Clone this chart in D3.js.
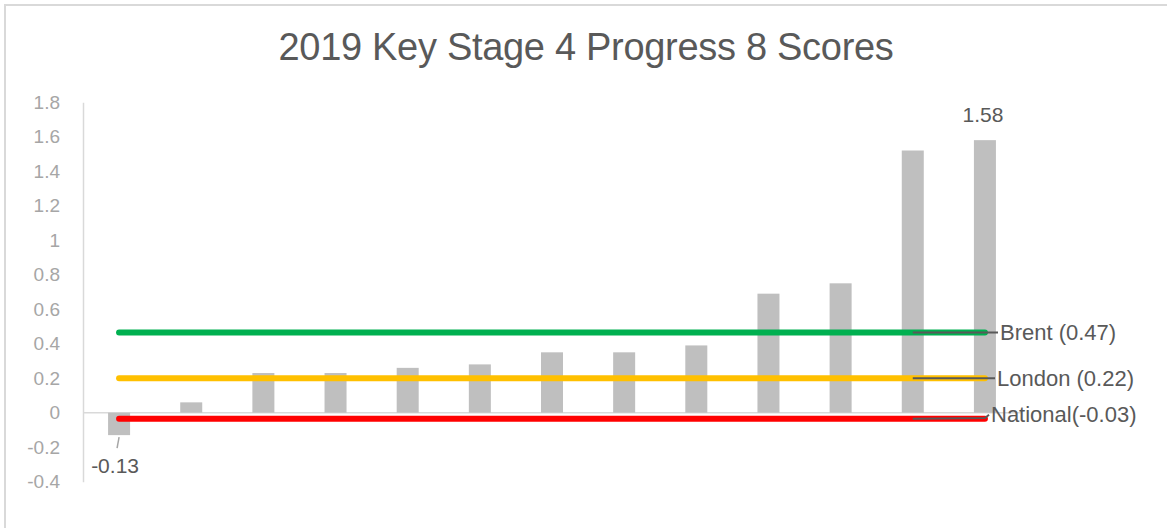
<!DOCTYPE html>
<html>
<head>
<meta charset="utf-8">
<script src="https://cdn.jsdelivr.net/npm/d3@7"></script>
<style>
  html, body { margin: 0; padding: 0; background: #fff; }
  svg { display: block; }
</style>
</head>
<body>
<svg id="chart" width="1167" height="528"></svg>
<script>
// ---- data ----
const titleText = "2019 Key Stage 4 Progress 8 Scores";
const schools = ["School 1","School 2","School 3","School 4","School 5","School 6","School 7",
                 "School 8","School 9","School 10","School 11","School 12","School 13"];
const scores = [-0.13, 0.06, 0.23, 0.23, 0.26, 0.28, 0.35, 0.35, 0.39, 0.69, 0.75, 1.52, 1.58];
const yTicks = [-0.4, -0.2, 0, 0.2, 0.4, 0.6, 0.8, 1, 1.2, 1.4, 1.6, 1.8];
const benchmarkNames = ["Brent (0.47)", "London (0.22)", "National(-0.03)"];
const benchmarkValues = [0.465, 0.2, -0.035];
const benchmarkColors = ["#00B050", "#FFC000", "#FF0000"];
const labelledBars = [0, 12];

// ---- layout ----
const svg = d3.select("#chart");
const plot = { left: 83, right: 1021, top: 102.2, bottom: 481.7 };
const locale = d3.formatLocale({ decimal: ".", thousands: ",", grouping: [3], currency: ["", ""], minus: "-" });
const fmt2 = locale.format(".2f");
const fmtTick = d => locale.format("")(+d.toFixed(1));

svg.append("rect")
  .attr("x", 5).attr("y", 5).attr("width", 1300).attr("height", 700)
  .attr("fill", "#fff").attr("stroke", "#D9D9D9").attr("stroke-width", 2);

const x = d3.scaleBand()
  .domain(schools)
  .range([plot.left, plot.right])
  .paddingInner(0.695)
  .paddingOuter(0.3475);

const y = d3.scaleLinear()
  .domain([-0.4, 1.8])
  .range([plot.bottom, plot.top]);

// title
svg.append("text")
  .attr("x", 586).attr("y", 60)
  .attr("text-anchor", "middle")
  .attr("font-family", "Liberation Sans, Arial, sans-serif")
  .attr("font-size", 38)
  .attr("letter-spacing", -0.3)
  .attr("fill", "#595959")
  .text(titleText);

// y axis
const yAxis = d3.axisLeft(y).tickValues(yTicks).tickSize(0).tickPadding(23)
  .tickFormat(fmtTick);
const gy = svg.append("g").attr("transform", `translate(${plot.left},0)`).call(yAxis);
gy.select(".domain").attr("stroke", "#D9D9D9").attr("stroke-width", 1.5);
gy.selectAll("text")
  .attr("font-family", "Liberation Sans, Arial, sans-serif")
  .attr("font-size", 19)
  .attr("fill", "#A6A6A6");

// zero line (category axis)
svg.append("line")
  .attr("x1", plot.left).attr("x2", plot.right)
  .attr("y1", y(0)).attr("y2", y(0))
  .attr("stroke", "#D9D9D9").attr("stroke-width", 1.5);

// bars
svg.append("g").selectAll("rect")
  .data(scores)
  .join("rect")
  .attr("x", (d, i) => x(schools[i]))
  .attr("width", x.bandwidth())
  .attr("y", d => Math.min(y(d), y(0)))
  .attr("height", d => Math.abs(y(d) - y(0)))
  .attr("fill", "#BFBFBF");

// benchmark lines
const xStart = x(schools[0]) + x.bandwidth() / 2;
const xEnd = x(schools[schools.length - 1]) + x.bandwidth() / 2;
svg.append("g").selectAll("line")
  .data(benchmarkValues)
  .join("line")
  .attr("x1", xStart).attr("x2", xEnd)
  .attr("y1", d => y(d)).attr("y2", d => y(d))
  .attr("stroke", (d, i) => benchmarkColors[i])
  .attr("stroke-width", 6)
  .attr("stroke-linecap", "round");

// benchmark leader lines + labels
const leaderStart = x(schools[11]) + x.bandwidth() / 2;
const labelDx = [1000, 997, 991];
const labelDy = [0, 0, -4];
benchmarkValues.forEach((v, i) => {
  const ly = y(v);
  svg.append("path")
    .attr("d", `M${leaderStart},${ly} L${labelDx[i] - 6},${ly + labelDy[i] * 0.2} L${labelDx[i] - 2},${ly + labelDy[i]}`)
    .attr("fill", "none")
    .attr("stroke", "#595959")
    .attr("stroke-width", 2);
  svg.append("text")
    .attr("x", labelDx[i]).attr("y", ly + labelDy[i])
    .attr("dy", "0.35em")
    .attr("font-family", "Liberation Sans, Arial, sans-serif")
    .attr("font-size", 22)
    .attr("fill", "#595959")
    .text(benchmarkNames[i]);
});

// data labels for first and last bar
labelledBars.forEach(i => {
  const v = scores[i];
  const cx = x(schools[i]) + x.bandwidth() / 2;
  if (v >= 0) {
    svg.append("text")
      .attr("x", cx - 2).attr("y", y(v) - 18)
      .attr("text-anchor", "middle")
      .attr("font-family", "Liberation Sans, Arial, sans-serif")
      .attr("font-size", 21)
      .attr("fill", "#595959")
      .text(fmt2(v));
  } else {
    svg.append("line")
      .attr("x1", cx).attr("y1", y(v) + 2)
      .attr("x2", cx - 2).attr("y2", y(v) + 13)
      .attr("stroke", "#A6A6A6").attr("stroke-width", 1.5);
    svg.append("text")
      .attr("x", cx - 4).attr("y", y(v) + 31)
      .attr("dy", "0.35em")
      .attr("text-anchor", "middle")
      .attr("font-family", "Liberation Sans, Arial, sans-serif")
      .attr("font-size", 21)
      .attr("fill", "#595959")
      .text(fmt2(v));
  }
});
</script>
</body>
</html>
